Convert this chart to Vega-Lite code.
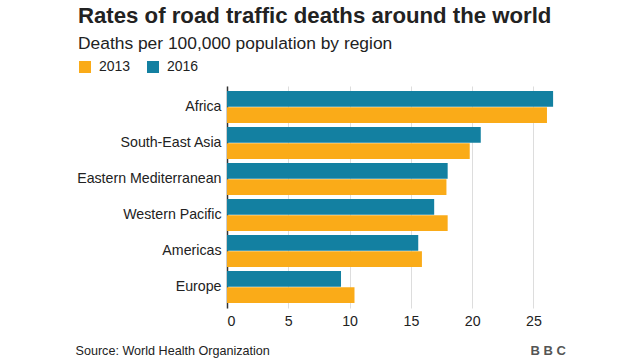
{
  "$schema": "https://vega.github.io/schema/vega-lite/v6.json",
  "autosize": {"type": "none"},
  "width": 331,
  "height": 222,
  "padding": {"left": 227, "top": 86, "right": 82, "bottom": 52},
  "background": "white",
  "title": {
    "text": "Rates of road traffic deaths around the world",
    "subtitle": "Deaths per 100,000 population by region",
    "anchor": "start",
    "frame": "group",
    "dx": -149,
    "font": "Liberation Sans",
    "fontSize": 22.2,
    "fontWeight": "bold",
    "color": "#222222",
    "subtitleFont": "Liberation Sans",
    "subtitleFontSize": 17.4,
    "subtitleColor": "#222222",
    "subtitlePadding": 7,
    "offset": 8
  },
  "data": {
    "values": [
      {"region": "Africa", "year": "2016", "rate": 26.6},
      {"region": "Africa", "year": "2013", "rate": 26.1},
      {"region": "South-East Asia", "year": "2016", "rate": 20.7},
      {"region": "South-East Asia", "year": "2013", "rate": 19.8},
      {"region": "Eastern Mediterranean", "year": "2016", "rate": 18.0},
      {"region": "Eastern Mediterranean", "year": "2013", "rate": 17.9},
      {"region": "Western Pacific", "year": "2016", "rate": 16.9},
      {"region": "Western Pacific", "year": "2013", "rate": 18.0},
      {"region": "Americas", "year": "2016", "rate": 15.6},
      {"region": "Americas", "year": "2013", "rate": 15.9},
      {"region": "Europe", "year": "2016", "rate": 9.3},
      {"region": "Europe", "year": "2013", "rate": 10.4}
    ]
  },
  "mark": {"type": "bar"},
  "encoding": {
    "y": {
      "field": "region",
      "type": "nominal",
      "sort": ["Africa", "South-East Asia", "Eastern Mediterranean", "Western Pacific", "Americas", "Europe"],
      "scale": {"paddingInner": 0.111, "paddingOuter": 0.14},
      "axis": {
        "title": "B B C",
        "titleAngle": 0,
        "titleX": 303,
        "titleY": 264,
        "titleAlign": "left",
        "titleBaseline": "middle",
        "titleFont": "Liberation Sans",
        "titleFontSize": 13,
        "titleFontWeight": "bold",
        "titleColor": "#555555",
        "ticks": false,
        "labelPadding": 6,
        "labelFont": "Liberation Sans",
        "labelFontSize": 14.2,
        "labelColor": "#222222",
        "domainColor": "#333333",
        "domainWidth": 1.5,
        "grid": false
      }
    },
    "yOffset": {
      "field": "year",
      "type": "nominal",
      "sort": ["2016", "2013"],
      "scale": {"paddingInner": 0.03, "paddingOuter": 0}
    },
    "x": {
      "field": "rate",
      "type": "quantitative",
      "scale": {"domain": [0, 27], "nice": false},
      "axis": {
        "values": [0, 5, 10, 15, 20, 25],
        "title": "Source: World Health Organization",
        "titleAnchor": "start",
        "titleAlign": "left",
        "titleX": -152,
        "titleY": 42,
        "titleBaseline": "middle",
        "titleFont": "Liberation Sans",
        "titleFontSize": 12.6,
        "titleFontWeight": "normal",
        "titleColor": "#222222",
        "ticks": false,
        "domain": false,
        "labelPadding": 6,
        "labelFont": "Liberation Sans",
        "labelFontSize": 14.2,
        "labelColor": "#222222",
        "grid": true,
        "gridColor": "#dddddd"
      }
    },
    "color": {
      "field": "year",
      "type": "nominal",
      "scale": {"domain": ["2013", "2016"], "range": ["#FAAB18", "#1380A1"]},
      "legend": {
        "title": null,
        "orient": "none",
        "direction": "horizontal",
        "legendX": -149,
        "legendY": -26,
        "symbolType": "square",
        "symbolSize": 144,
        "symbolOpacity": 1,
        "labelOffset": 7,
        "labelFont": "Liberation Sans",
        "labelFontSize": 14,
        "labelColor": "#222222",
        "columnPadding": 15
      }
    }
  },
  "config": {"view": {"stroke": null}}
}
